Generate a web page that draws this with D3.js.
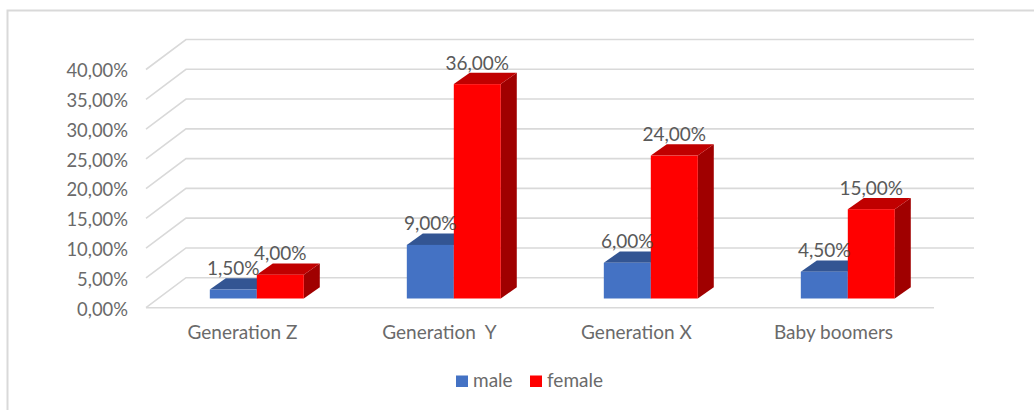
<!doctype html>
<html>
<head>
    <meta charset='utf-8' />
    <script src="https://cdn.jsdelivr.net/npm/d3@7"></script>
    <style>
        html, body { margin: 0; padding: 0; background: #fff; }
        svg { display: block; }
        text { font-family: Lato, "Open Sans", sans-serif; fill: #595959; }
        .domain { display: none; }
    </style>
</head>
<body>
<div id="display1"></div>

<script type="text/javascript">
var categories = ["Generation Z", "Generation  Y", "Generation X", "Baby boomers"];
var seriesNames = ["male", "female"];
var male = [1.5, 9, 6, 4.5];
var female = [4, 36, 24, 15];
var yTicks = [0, 5, 10, 15, 20, 25, 30, 35, 40];

var seriesValues = [male, female];
var fronts = ["#4472c4", "#ff0000"];
var tops = ["#335593", "#c00000"];
var sides = ["#2f5290", "#a00000"];

var width = 1034, height = 410;

// chart floor and wall depth
var wallDx = 40, wallDy = -30;
var barInsetX = 12.3, barInsetY = -9.2;
var barDx = 16, barDy = -11.3;

var svg = d3.select("#display1").append("svg")
    .attr("width", width)
    .attr("height", height);

var x0 = d3.scaleBand().domain(categories).range([146, 934]).paddingInner(0.523).paddingOuter(0.2615);
var x1 = d3.scaleBand().domain(seriesNames).range([0, x0.bandwidth()]);
var y = d3.scaleLinear().domain([0, 40]).range([307.7, 69.5]);

var comma = function (v) { return v.toFixed(2).replace(".", ",") + "%"; };

// outer frame, only top and left are visible
svg.append("path")
    .attr("d", d3.line()([[7.5, height], [7.5, 10.5], [width, 10.5]]))
    .attr("fill", "none")
    .attr("stroke", "#d9d9d9")
    .attr("stroke-width", 2);

// gridlines
var grid = svg.append("g").attr("fill", "none").attr("stroke", "#d9d9d9").attr("stroke-width", 1.6);
yTicks.forEach(function (t) {
    grid.append("path").attr("d", d3.line()([
        [x0.range()[0], y(t)],
        [x0.range()[0] + wallDx, y(t) + wallDy],
        [x0.range()[1] + wallDx, y(t) + wallDy]
    ]));
});
grid.append("line")
    .attr("x1", x0.range()[0]).attr("x2", x0.range()[1])
    .attr("y1", y(0)).attr("y2", y(0));

// bars
seriesNames.forEach(function (name, s) {
    var g = svg.append("g").attr("class", "series-" + name);
    categories.forEach(function (c, i) {
        var left = x0(c) + x1(name) + barInsetX;
        var right = left + x1.bandwidth();
        var top = y(seriesValues[s][i]) + barInsetY;
        var bottom = y(0) + barInsetY;

        g.append("path").attr("fill", sides[s]).attr("d", d3.line()([
            [right, top], [right + barDx, top + barDy], [right + barDx, bottom + barDy], [right, bottom]
        ]) + "Z");
        g.append("path").attr("fill", tops[s]).attr("d", d3.line()([
            [left, top], [left + barDx, top + barDy], [right + barDx, top + barDy], [right, top]
        ]) + "Z");
        g.append("rect").attr("fill", fronts[s])
            .attr("x", left).attr("y", top)
            .attr("width", x1.bandwidth()).attr("height", bottom - top);
    });
});

// data labels go above all the bars
seriesNames.forEach(function (name, s) {
    svg.append("g").selectAll("text").data(seriesValues[s]).join("text")
        .attr("x", function (d, i) { return x0(categories[i]) + x1(name) + barInsetX + x1.bandwidth() / 2; })
        .attr("y", function (d) { return y(d) + barInsetY - 14.5; })
        .attr("text-anchor", "middle")
        .attr("font-size", 19)
        .text(comma);
});

// axes
var yAxis = svg.append("g")
    .attr("transform", "translate(128,1.5)")
    .call(d3.axisLeft(y).tickValues(yTicks).tickSize(0).tickPadding(0).tickFormat(comma));
yAxis.selectAll("text").attr("font-size", 18.4).style("fill", "#6a6a6a");

var xAxis = svg.append("g")
    .attr("transform", "translate(-2,325)")
    .call(d3.axisBottom(x0).tickSize(0).tickPadding(0));
xAxis.selectAll("text").attr("font-size", 19).style("fill", "#6a6a6a").style("white-space", "pre");

// legend
var legendX = [456, 530];
seriesNames.forEach(function (name, s) {
    svg.append("rect")
        .attr("x", legendX[s]).attr("y", 375.5)
        .attr("width", 12).attr("height", 11.5)
        .attr("fill", fronts[s]);
    svg.append("text")
        .attr("x", legendX[s] + 17).attr("y", 387)
        .attr("font-size", 19)
        .style("fill", "#6a6a6a")
        .text(name);
});
</script>
</body>
</html>
